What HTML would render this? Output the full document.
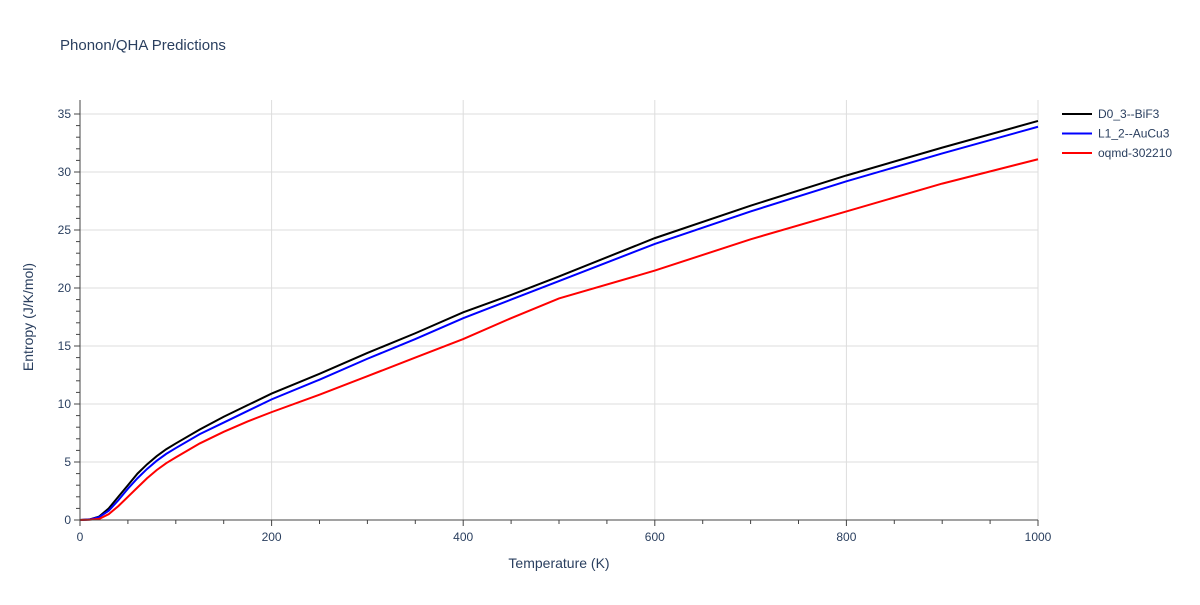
<!DOCTYPE html>
<html><head><meta charset="utf-8"><style>
body{margin:0;background:#fff;font-family:"Liberation Sans",sans-serif;}
svg text{font-family:"Liberation Sans",sans-serif;fill:#2a3f5f;}
</style></head><body>
<svg id="chart" width="1200" height="600">
<text x="60" y="50" font-size="15">Phonon/QHA Predictions</text>
<g id="grid"></g><g id="series"></g><g id="axes"></g><g id="legend"></g>
<text x="559" y="568" font-size="14" text-anchor="middle">Temperature (K)</text>
<text transform="translate(33,317) rotate(-90)" font-size="14" text-anchor="middle">Entropy (J/K/mol)</text>
</svg>
<script>
const temps = [0,10,20,30,40,50,60,70,80,90,100,125,150,175,200,250,300,350,400,450,500,600,700,800,900,1000];
const black = [0,0.05,0.3,1.0,2.0,3.0,4.0,4.8,5.5,6.1,6.6,7.8,8.9,9.9,10.9,12.6,14.4,16.1,17.9,19.4,21.0,24.3,27.1,29.7,32.1,34.4];
const blue = [0,0.04,0.25,0.8,1.7,2.7,3.6,4.4,5.1,5.7,6.2,7.4,8.4,9.4,10.4,12.1,13.9,15.6,17.4,19.0,20.6,23.8,26.6,29.2,31.6,33.9];
const red = [0,0.02,0.1,0.5,1.2,2.0,2.8,3.6,4.3,4.9,5.4,6.6,7.6,8.5,9.3,10.8,12.4,14.0,15.6,17.4,19.1,21.5,24.2,26.6,29.0,31.1];
const seriesNames = ["D0_3--BiF3","L1_2--AuCu3","oqmd-302210"];
const xTicks = [0,200,400,600,800,1000];
const yTicks = [0,5,10,15,20,25,30,35];
const X0=80,X1=1038,Y0=520,PX=11.6;
const xs=v=>X0+(X1-X0)*v/1000, ys=v=>Y0-v*PX;
const NS="http://www.w3.org/2000/svg";
function mk(t,a,p){const e=document.createElementNS(NS,t);for(const k in a)e.setAttribute(k,a[k]);p.appendChild(e);return e;}
const grid=document.getElementById('grid'),axes=document.getElementById('axes'),ser=document.getElementById('series'),leg=document.getElementById('legend');
xTicks.forEach(t=>{if(t>0){const l=mk('line',{x1:xs(t),x2:xs(t),y1:100,y2:Y0,stroke:'#ddd'},grid);

}
const tx=mk('text',{x:xs(t),y:541,'font-size':12,'text-anchor':'middle'},axes);tx.textContent=t;

});
yTicks.forEach(t=>{if(t>0){const l=mk('line',{x1:X0,x2:X1,y1:ys(t),y2:ys(t),stroke:'#ddd'},grid);

}
const tx=mk('text',{x:71,y:ys(t)+4,'font-size':12,'text-anchor':'end'},axes);tx.textContent=t;

});
for(let t=0;t<=1000;t+=50){const l=mk('line',{x1:xs(t),x2:xs(t),y1:Y0,y2:Y0+(t%200?4:6),stroke:'#444'},axes);

}
for(let v=0;v<=35;v+=1){const l=mk('line',{x1:X0,x2:X0-(v%5?4:6),y1:ys(v),y2:ys(v),stroke:'#444'},axes);

}
const xa=mk('line',{x1:X0,x2:X1,y1:Y0,y2:Y0,stroke:'#444'},axes);


const ya=mk('line',{x1:X0,x2:X0,y1:100,y2:Y0,stroke:'#444'},axes);


const colors=['#000','#00f','#f00'];
[black,blue,red].forEach((d,i)=>{
const p=mk('path',{d:d.map((v,j)=>(j?'L':'M')+xs(temps[j])+','+ys(v)).join(''),fill:'none',stroke:colors[i],'stroke-width':2},ser);


const g=mk('g',{},leg);


const y=114+i*19.5;
mk('line',{x1:1062,x2:1092,y1:y,y2:y,stroke:colors[i],'stroke-width':2},g);
const t=mk('text',{x:1098,y:y+4,'font-size':12},g);t.textContent=seriesNames[i];});
</script>
</body></html>
